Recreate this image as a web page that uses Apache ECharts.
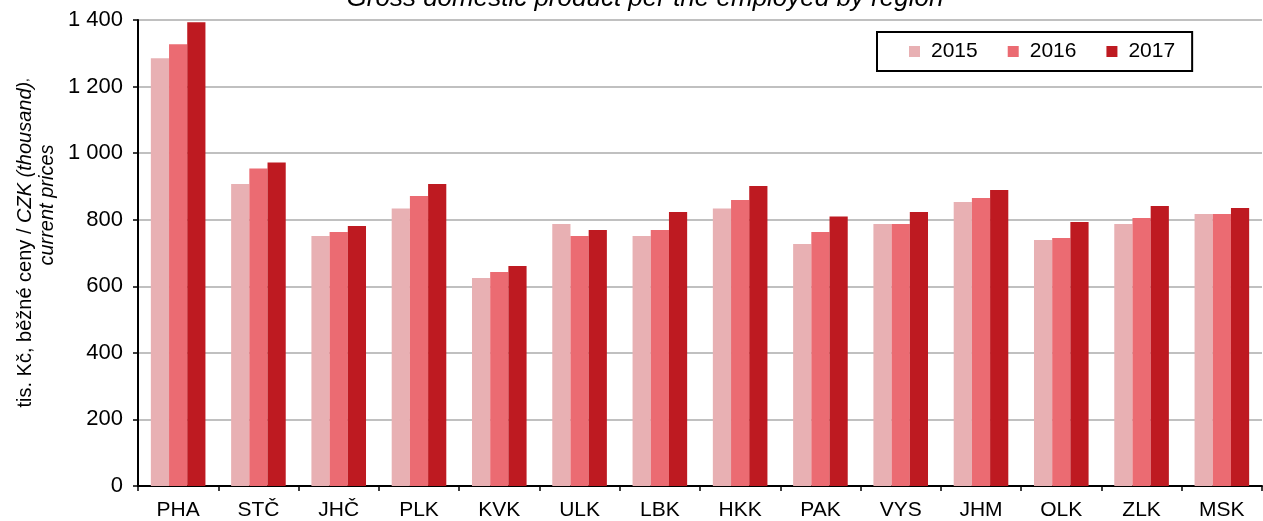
<!DOCTYPE html>
<html>
<head>
<meta charset="utf-8">
<script src="https://cdn.jsdelivr.net/npm/echarts@6/dist/echarts.min.js"></script>
<style>
  html, body { margin: 0; padding: 0; background: #fff; }
  #chart { width: 1263px; height: 521px; }
</style>
</head>
<body>
<div id="chart"></div>
<script>
// regions
const regions = ['PHA', 'STČ', 'JHČ', 'PLK', 'KVK', 'ULK', 'LBK', 'HKK', 'PAK', 'VYS', 'JHM', 'OLK', 'ZLK', 'MSK']
// GDP per employed, CZK thousand
const y2015 = [1285, 907, 751, 834, 625, 787, 751, 834, 727, 787, 853, 739, 787, 817]
const y2016 = [1327, 954, 763, 871, 643, 751, 769, 859, 763, 787, 865, 745, 805, 817]
const y2017 = [1393, 972, 781, 907, 661, 769, 823, 901, 810, 823, 889, 793, 841, 835]
const years = ['2015', '2016', '2017']
const colors = ['#e8b0b3', '#eb6b72', '#be1a21']

const font = 'Liberation Sans'
const fmt = v => String(v).replace(/\B(?=(\d{3})+(?!\d))/g, ' ')

let chart = echarts.init(document.getElementById('chart'))

let option = {
  animation: false,
  textStyle: { fontFamily: font, color: '#000' },
  title: {
    text: 'Gross domestic product per the employed by region',
    left: 645,
    top: -14,
    padding: 0,
    textAlign: 'center',
    textStyle: { fontFamily: font, fontSize: 26, fontStyle: 'italic', fontWeight: 'normal', color: '#000' }
  },
  legend: {
    data: years,
    left: 877,
    top: 32,
    padding: [9, 17, 9, 32],
    itemGap: 30,
    itemWidth: 11,
    itemHeight: 11,
    icon: 'rect',
    borderColor: '#000',
    borderWidth: 2,
    backgroundColor: '#fff',
    textStyle: { fontFamily: font, fontSize: 21, color: '#000', padding: [0, 0, 0, 6] }
  },
  grid: { left: 138, right: 1, top: 20, bottom: 35, outerBoundsMode: 'none' },
  xAxis: {
    type: 'category',
    data: regions,
    axisLine: { lineStyle: { color: '#000', width: 2 } },
    axisTick: { show: true, length: 5, lineStyle: { color: '#000', width: 1.5 } },
    axisLabel: { fontFamily: font, fontSize: 21, color: '#000', margin: 14 }
  },
  yAxis: {
    type: 'value',
    min: 0,
    max: 1400,
    interval: 200,
    name: '{n|tis. Kč, běžné ceny / }{i|CZK (thousand)},\n{p|current prices}',
    nameLocation: 'middle',
    nameRotate: 90,
    nameGap: 77,
    nameTextStyle: {
      rich: {
        n: { fontFamily: font, fontSize: 20, color: '#000', lineHeight: 22, padding: [0, 0, 0, 20] },
        i: { fontFamily: font, fontSize: 20, fontStyle: 'italic', color: '#000', lineHeight: 22 },
        p: { fontFamily: font, fontSize: 20, fontStyle: 'italic', color: '#000', lineHeight: 22, padding: [0, 0, 0, 96] }
      },
      align: 'center'
    },
    axisLine: { show: true, lineStyle: { color: '#000', width: 2 } },
    axisTick: { show: true, length: 5, inside: false, lineStyle: { color: '#000', width: 1.5 } },
    axisLabel: { fontFamily: font, fontSize: 22, color: '#000', margin: 15, formatter: fmt },
    splitLine: { lineStyle: { color: '#c0c0c0', width: 2 } }
  },
  series: [y2015, y2016, y2017].map((d, i) => ({
    name: years[i],
    type: 'bar',
    data: d,
    barGap: '0%',
    barCategoryGap: '32%',
    itemStyle: { color: colors[i] }
  }))
}

option && chart.setOption(option)
</script>
</body>
</html>
